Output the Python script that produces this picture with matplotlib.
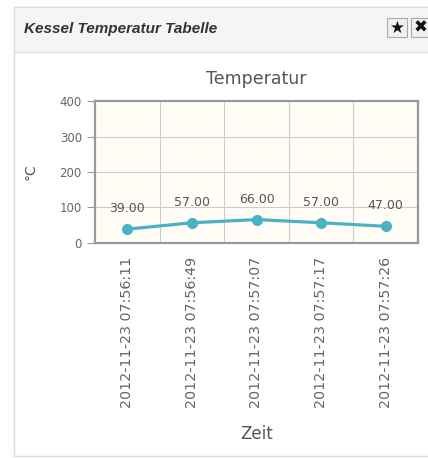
import matplotlib.pyplot as plt
from matplotlib.patches import Rectangle

# data
times = ["2012-11-23 07:56:11", "2012-11-23 07:56:49", "2012-11-23 07:57:07",
         "2012-11-23 07:57:17", "2012-11-23 07:57:26"]
temps = [39.0, 57.0, 66.0, 57.0, 47.0]
yticks = [0, 100, 200, 300, 400]

W, H = 428, 458
fig = plt.figure(figsize=(W / 100, H / 100), dpi=100)
fig.patch.set_facecolor("white")

# panel box + header
fig.patches.append(Rectangle((14 / W, 1 - 456 / H), 420 / W, 449 / H, transform=fig.transFigure,
                             facecolor="white", edgecolor="#dddddd", lw=1, zorder=-5))
fig.patches.append(Rectangle((14 / W, 1 - 52 / H), 420 / W, 45 / H, transform=fig.transFigure,
                             facecolor="#f5f5f5", edgecolor="#dddddd", lw=1, zorder=-4))
fig.text(24 / W, 1 - 29 / H, "Kessel Temperatur Tabelle", fontsize=11, fontweight="bold",
         fontstyle="italic", color="#333333", va="center", family="Liberation Sans")
for bx, glyph in [(387, "\u2605"), (411, "\u2716")]:
    fig.patches.append(Rectangle((bx / W, 1 - 37 / H), 20 / W, 19 / H, transform=fig.transFigure,
                                 facecolor="#f0f0f0", edgecolor="#aaaaaa", lw=0.8, zorder=-3))
    fig.text((bx + 10) / W, 1 - 27.5 / H, glyph, fontsize=12, ha="center", va="center", color="#111111")

# plot area
ax = fig.add_axes([95 / W, 1 - 243 / H, (418 - 95) / W, (243 - 101) / H])
ax.set_facecolor("#fffdf6")
x = list(range(len(times)))
ax.plot(x, temps, color="#4bb2c5", lw=2.3, marker="o", markersize=7, zorder=3)
for xi, v in zip(x, temps):
    ax.annotate(f"{v:.2f}", (xi, v), xytext=(0, 10), textcoords="offset points",
                ha="center", va="bottom", fontsize=9, color="#555555")

ax.set_xlim(-0.5, len(times) - 0.5)
ax.set_ylim(0, 400)
ax.set_yticks(yticks)
ax.set_xticks(x)
ax.set_xticklabels(times, rotation=90, fontsize=10.3, color="#666666")
ax.tick_params(axis="y", labelsize=8.5, labelcolor="#666666", color="#999999", length=6)
ax.tick_params(axis="x", length=0, pad=10)
for g in [i + 0.5 for i in x[:-1]]:
    ax.axvline(g, color="#cccccc", lw=0.8, zorder=1)
for g in yticks[1:-1]:
    ax.axhline(g, color="#cccccc", lw=0.8, zorder=1)
for s in ax.spines.values():
    s.set_color("#999999")
    s.set_linewidth(1.6)

ax.set_title("Temperatur", fontsize=12.5, color="#555555", pad=12)
ax.set_ylabel("°C", fontsize=10, color="#555555", labelpad=16)
ax.set_xlabel("Zeit", fontsize=12, color="#555555", labelpad=12)

fig.savefig("out.png", dpi=100)
